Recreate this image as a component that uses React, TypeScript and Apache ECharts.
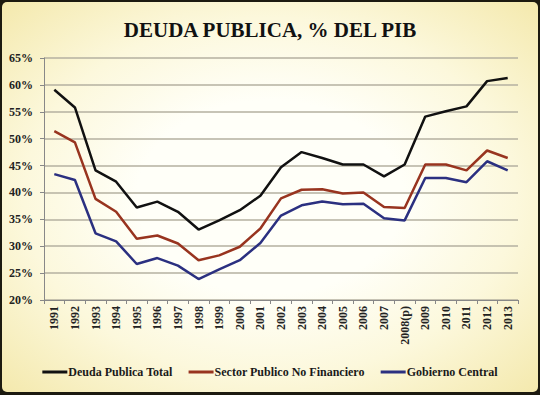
import React, { useEffect, useRef } from "react";
import * as echarts from "echarts";

const years = ["1991","1992","1993","1994","1995","1996","1997","1998","1999","2000","2001","2002","2003","2004","2005","2006","2007","2008(p)","2009","2010","2011","2012","2013"];
const deudaTotal = [59.1,55.8,44.1,42.0,37.2,38.3,36.4,33.1,34.8,36.7,39.4,44.7,47.5,46.4,45.2,45.2,43.0,45.2,54.1,55.1,56.0,60.7,61.3];
const sectorNoFin = [51.4,49.3,38.8,36.4,31.4,32.0,30.5,27.4,28.3,29.9,33.3,38.9,40.5,40.6,39.8,40.0,37.3,37.1,45.2,45.2,44.1,47.8,46.4];
const gobCentral = [43.4,42.3,32.4,30.9,26.7,27.8,26.4,23.9,25.7,27.4,30.6,35.7,37.6,38.3,37.8,37.9,35.2,34.8,42.7,42.7,41.9,45.8,44.1];
const seriesNames = ["Deuda Publica Total","Sector Publico No Financiero","Gobierno Central"];
const colors = ["#111111","#98341f","#2b3080"];

const FONT = "'Liberation Serif', serif";

export default function App() {
  const ref = useRef<HTMLDivElement>(null);
  useEffect(() => {
    if (!ref.current) return;
    const chart = echarts.init(ref.current, null, { renderer: "svg" });
    const data = [deudaTotal, sectorNoFin, gobCentral];
    chart.setOption({
      animation: false,
      backgroundColor: "transparent",
      textStyle: { fontFamily: FONT },
      title: {
        text: "DEUDA PUBLICA, % DEL PIB",
        left: "center",
        top: 14,
        textStyle: { fontFamily: FONT, fontSize: 21, fontWeight: "bold", color: "#111" },
      },
      legend: {
        bottom: 12,
        left: "center",
        itemWidth: 25,
        itemHeight: 3,
        itemGap: 16,
        icon: "rect",
        textStyle: { fontFamily: FONT, fontSize: 12, fontWeight: "bold", color: "#1a1a1a", padding: [0, 0, 0, -4] },
        data: seriesNames,
      },
      grid: { left: 44, right: 22, top: 58, bottom: 95, containLabel: false },
      xAxis: {
        type: "category",
        data: years,
        boundaryGap: true,
        axisLine: { lineStyle: { color: "#888", width: 1 } },
        axisTick: { show: true, alignWithLabel: false, length: 4, lineStyle: { color: "#888" } },
        axisLabel: { rotate: 90, fontFamily: FONT, fontSize: 12, fontWeight: "bold", color: "#222", margin: 6, interval: 0 },
      },
      yAxis: {
        type: "value",
        min: 20,
        max: 65,
        interval: 5,
        axisLine: { show: true, lineStyle: { color: "#888", width: 1 } },
        axisTick: { show: true, length: 4, lineStyle: { color: "#888" } },
        axisLabel: { formatter: "{value}%", fontFamily: FONT, fontSize: 12, fontWeight: "bold", color: "#222", margin: 11 },
        splitLine: { lineStyle: { color: "#b5b1a0", width: 1.5 } },
      },
      series: seriesNames.map((n, i) => ({
        name: n,
        type: "line",
        data: data[i],
        symbol: "none",
        lineStyle: { color: colors[i], width: 2.5 },
        itemStyle: { color: colors[i] },
      })),
    });
    return () => chart.dispose();
  }, []);
  return (
    <div style={{ position: "fixed", left: 0, top: 0, width: 540, height: 395, background: "#1c1a10" }}>
      <div
        style={{
          position: "absolute",
          left: 2,
          top: 2,
          width: 536,
          height: 390,
          borderRadius: 5,
          background: "radial-gradient(ellipse at 50% 50%, #fffff8 35%, #fcf8dc 65%, #f4e9ad 100%)",
        }}
      />
      <div ref={ref} style={{ position: "absolute", left: 0, top: 0, width: 540, height: 395 }} />
    </div>
  );
}
